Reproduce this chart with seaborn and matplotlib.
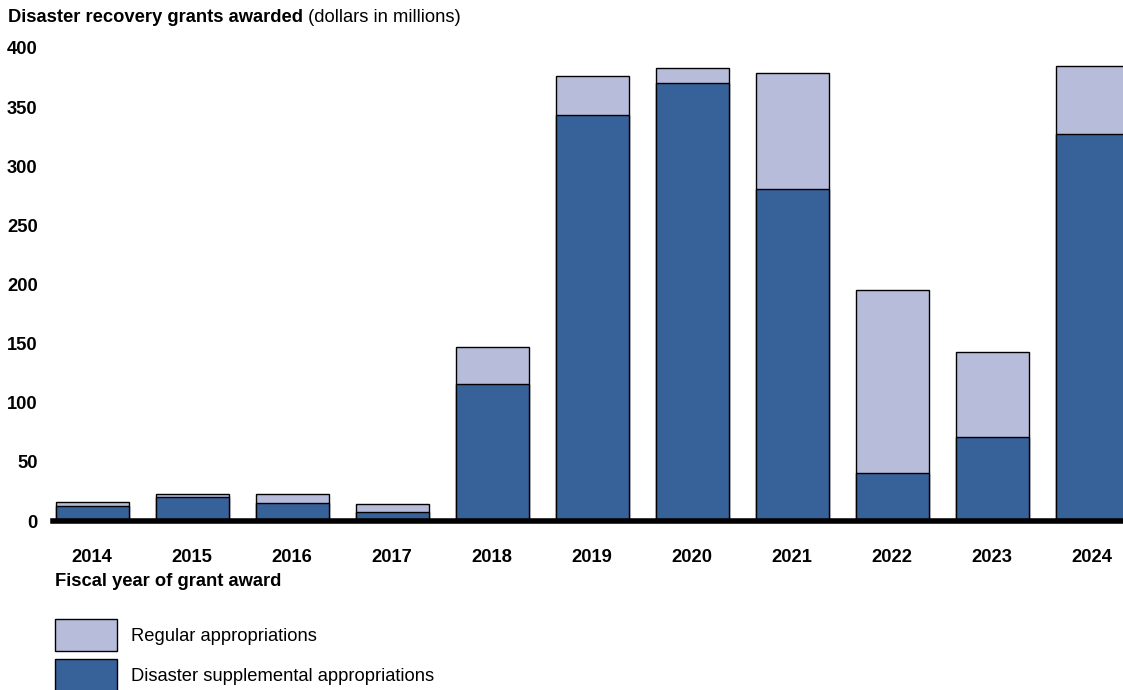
import matplotlib
matplotlib.use('Agg')
import matplotlib.pyplot as plt
import seaborn as sns
import pandas as pd
from matplotlib.patches import Patch

years = ['2014', '2015', '2016', '2017', '2018', '2019', '2020', '2021', '2022', '2023', '2024']
supplemental = [12.7, 20, 15, 7.6, 116, 343, 370, 280.5, 40.6, 71.4, 327]
regular = [3.6, 3, 8, 7.1, 31.5, 33, 13, 98.3, 154.4, 71.6, 57.5]

total = [s + r for s, r in zip(supplemental, regular)]
df = pd.DataFrame({'year': years, 'supplemental': supplemental, 'total': total})

dark = '#376199'
light = '#b8bcdb'
fs = 13.2

sns.set_theme(style='white')
plt.rcParams['font.family'] = ['Liberation Sans', 'DejaVu Sans']
plt.rcParams['text.color'] = 'black'

fig = plt.figure(figsize=(11.23, 6.9), dpi=100)
ax = fig.add_axes([53 / 1123, 1 - 521 / 690, 1 - 53 / 1123, (521 - 48) / 690])

sns.barplot(data=df, x='year', y='total', order=years, color=light, width=0.73,
            edgecolor='black', linewidth=1, saturation=1, ax=ax)
sns.barplot(data=df, x='year', y='supplemental', order=years, color=dark, width=0.73,
            edgecolor='black', linewidth=1, saturation=1, ax=ax)

ax.set_ylim(0, 400)
ax.set_xlim(-0.39, 10.31)
ax.set_yticks(range(0, 401, 50))
ax.set_xlabel('')
ax.set_ylabel('')
for s in ['top', 'right', 'left']:
    ax.spines[s].set_visible(False)
ax.spines['bottom'].set_linewidth(4)
ax.spines['bottom'].set_color('black')
ax.spines['bottom'].set_zorder(5)
ax.tick_params(axis='y', length=0, pad=11, labelsize=fs)
ax.tick_params(axis='x', length=0, pad=20, labelsize=fs)
for lab in ax.get_xticklabels() + ax.get_yticklabels():
    lab.set_fontweight('bold')
    lab.set_color('black')

# title: bold part + normal part
t1 = fig.text(8 / 1123, 1 - 18 / 690, 'Disaster recovery grants awarded', fontsize=fs,
              fontweight='bold', va='center', ha='left', color='black')
fig.canvas.draw()
bb = t1.get_window_extent()
fig.text(bb.x1 / fig.bbox.width, 1 - 18 / 690, ' (dollars in millions)', fontsize=fs,
         va='center', ha='left', color='black')

fig.text(55 / 1123, 1 - 581 / 690, 'Fiscal year of grant award', fontsize=fs,
         fontweight='bold', va='center', ha='left', color='black')

handles = [Patch(facecolor=light, edgecolor='black', linewidth=1),
           Patch(facecolor=dark, edgecolor='black', linewidth=1)]
fig.legend(handles, ['Regular appropriations', 'Disaster supplemental appropriations'],
           loc='upper left', bbox_to_anchor=(55 / 1123, 1 - 619 / 690), frameon=False,
           fontsize=fs, handlelength=3.39, handleheight=2.31, labelspacing=0.44,
           handletextpad=0.77, borderpad=0, borderaxespad=0, labelcolor='black')

fig.savefig('out.png', dpi=100)
